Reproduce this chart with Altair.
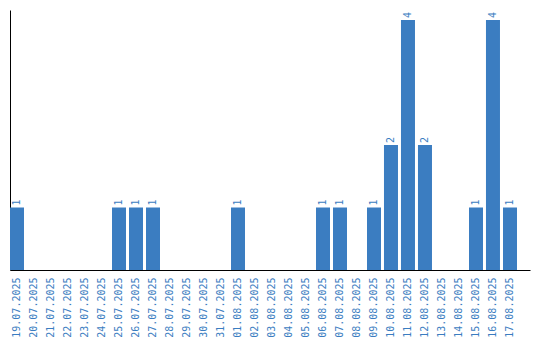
import altair as alt
import pandas as pd

dates = ["19.07.2025", "20.07.2025", "21.07.2025", "22.07.2025", "23.07.2025", "24.07.2025",
         "25.07.2025", "26.07.2025", "27.07.2025", "28.07.2025", "29.07.2025", "30.07.2025",
         "31.07.2025", "01.08.2025", "02.08.2025", "03.08.2025", "04.08.2025", "05.08.2025",
         "06.08.2025", "07.08.2025", "08.08.2025", "09.08.2025", "10.08.2025", "11.08.2025",
         "12.08.2025", "13.08.2025", "14.08.2025", "15.08.2025", "16.08.2025", "17.08.2025"]
counts = [1, 0, 0, 0, 0, 0,
          1, 1, 1, 0, 0, 0,
          0, 1, 0, 0, 0, 0,
          1, 1, 0, 1, 2, 4,
          2, 0, 0, 1, 4, 1]

df = pd.DataFrame({"date": dates, "count": counts})
df["label"] = df["count"].apply(lambda v: str(v) if v > 0 else "")

BLUE = "#3b7dc1"
FONT = "DejaVu Sans Mono"

x = alt.X("date:N", sort=dates, title=None,
          scale=alt.Scale(paddingInner=0.176, paddingOuter=0.383, align=0),
          axis=alt.Axis(labelAngle=270, labelColor=BLUE, labelFont=FONT, labelFontSize=10,
                        ticks=False, labelPadding=7, domainColor="black", domainWidth=1))
y = alt.Y("count:Q", title=None,
          scale=alt.Scale(domain=[0, 4.16], nice=False),
          axis=alt.Axis(labels=False, ticks=False, grid=False, domainColor="black", domainWidth=1))

bars = alt.Chart(df).mark_bar(color=BLUE).encode(x=x, y=y)
text = alt.Chart(df).mark_text(angle=270, align="left", baseline="middle", dx=2,
                               font=FONT, fontSize=10, color=BLUE).encode(
    x=alt.X("date:N", sort=dates), y="count:Q", text="label:N")

chart = (bars + text).properties(
    width=520, height=260,
    padding={"left": 10, "top": 10, "right": 10, "bottom": 70},
    autosize=alt.AutoSizeParams(type="none"),
).configure_view(stroke=None)

chart.save("out.html", embed_options={"renderer": "svg", "actions": False})
